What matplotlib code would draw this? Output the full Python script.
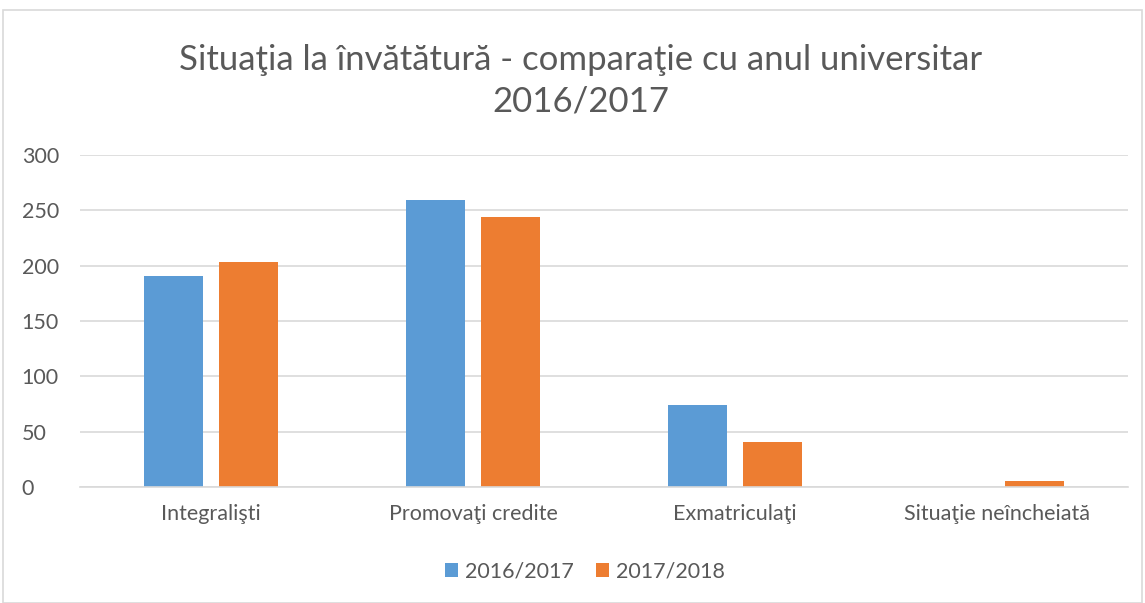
import numpy as np
import matplotlib.pyplot as plt
from matplotlib.patches import Rectangle

# date
categorii = ['Integralişti', 'Promovaţi credite', 'Exmatriculaţi', 'Situaţie neîncheiată']
ani = ['2016/2017', '2017/2018']
val_2016 = [191, 259, 74, 0]
val_2018 = [203, 244, 41, 5]
culori = ['#5b9bd5', '#ed7d31']

plt.rcParams['font.family'] = ['Lato', 'DejaVu Sans']
text_col = '#595959'

fig = plt.figure(figsize=(11.45, 6.03), dpi=100)
ax = fig.add_axes([80/1145, 1 - 487/603, 1048/1145, 332/603])

x = np.arange(len(categorii))
w = 0.225
ax.bar(x - 0.143, val_2016, w, color=culori[0], label=ani[0], zorder=3)
ax.bar(x + 0.143, val_2018, w, color=culori[1], label=ani[1], zorder=3)

ax.set_xlim(-0.5, 3.5)
ax.set_ylim(0, 300)
ax.set_yticks(range(0, 301, 50))
ax.set_xticks(x)
ax.set_xticklabels(categorii)
ax.tick_params(length=0, labelsize=15.5, colors=text_col, pad=12)
ax.tick_params(axis='y', pad=42)
for lbl in ax.get_yticklabels():
    lbl.set_horizontalalignment('left')
ax.yaxis.grid(True, color='#d9d9d9', lw=1.2, zorder=0)
for s in ['top', 'right', 'left']:
    ax.spines[s].set_visible(False)
ax.spines['bottom'].set_color('#d9d9d9')
ax.spines['bottom'].set_linewidth(1.2)
ax.spines['bottom'].set_zorder(4)

fig.text(0.507, 0.866, 'Situaţia la învătătură - comparaţie cu anul universitar\n2016/2017',
         ha='center', va='center', fontsize=25, color=text_col, linespacing=1.38)

leg = fig.legend(loc='center', bbox_to_anchor=(0.511, 0.052), ncol=2, frameon=False,
                 fontsize=15.5, handlelength=0.6, handleheight=0.6, columnspacing=1.0,
                 handletextpad=0.35)
for t in leg.get_texts():
    t.set_color(text_col)

fig.patches.append(Rectangle((3/1145, 0), 1139/1145, 1 - 10/603, transform=fig.transFigure,
                             fill=False, edgecolor='#d9d9d9', lw=1.2))

fig.savefig('out.png', dpi=100)
